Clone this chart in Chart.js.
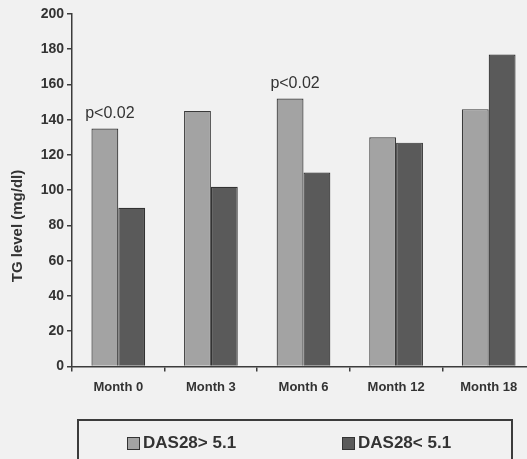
<!DOCTYPE html>
<html>
<head>
<meta charset="utf-8">
<script src="https://cdn.jsdelivr.net/npm/chart.js@4/dist/chart.umd.min.js"></script>
<style>
  html, body { margin: 0; padding: 0; background: #f1f1f1; overflow: hidden; }
  #wrap { position: relative; width: 527px; height: 459px; overflow: hidden; }
  #legend {
    position: absolute; left: 77px; top: 419px; width: 436px; height: 60px;
    border: 2px solid #3c3c3c; box-sizing: border-box;
    font: bold 17px "Liberation Sans", Arial, sans-serif; color: #333;
  }
  #legend .item { position: absolute; top: 12px; display: flex; align-items: center; }
  #legend .sw { width: 11px; height: 11px; border: 1px solid #333; margin-right: 3px; }
</style>
</head>
<body>
<div id="wrap">
  <canvas id="c" width="540" height="459"></canvas>
  <div id="legend"></div>
</div>
<script>
'use strict';

// ── data ────────────────────────────────────────────────────────────────────

const months   = ['Month 0', 'Month 3', 'Month 6', 'Month 12', 'Month 18'];
const highDAS  = [135, 145, 152, 130, 146];   // DAS28> 5.1
const lowDAS   = [90, 102, 110, 127, 177];    // DAS28< 5.1
const seriesNames = ['DAS28> 5.1', 'DAS28< 5.1'];
const yTicks   = { min: 0, max: 200, step: 20 };
const yTitle   = 'TG level (mg/dl)';
const pLabels  = [{ idx: 0, text: 'p<0.02' }, { idx: 2, text: 'p<0.02' }];

const FONT = '"Liberation Sans", Arial, sans-serif';
const AXIS = '#3c3c3c';

// ── plugins ─────────────────────────────────────────────────────────────────

const pValuePlugin = {
  id: 'pvals',
  afterDatasetsDraw(chart) {
    const meta = chart.getDatasetMeta(0);
    const ctx = chart.ctx;
    ctx.save();
    ctx.font = '16px ' + FONT;
    ctx.fillStyle = '#333';
    ctx.textAlign = 'center';
    ctx.textBaseline = 'middle';
    pLabels.forEach(p => {
      const bar = meta.data[p.idx];
      ctx.fillText(p.text, bar.x + 5, bar.y - 15);
    });
    ctx.restore();
  },
};

const yTitlePlugin = {
  id: 'ytitle',
  afterDraw(chart) {
    const ctx = chart.ctx;
    ctx.save();
    ctx.translate(18, 226);
    ctx.rotate(-Math.PI / 2);
    ctx.font = 'bold 15px ' + FONT;
    ctx.fillStyle = '#333';
    ctx.textAlign = 'center';
    ctx.textBaseline = 'middle';
    ctx.fillText(yTitle, 0, 0);
    ctx.restore();
  },
};

// ── chart ───────────────────────────────────────────────────────────────────

const chart = new Chart(document.getElementById('c'), {
  type: 'bar',
  data: {
    labels: months,
    datasets: [
      { label: seriesNames[0], data: highDAS, backgroundColor: '#a3a3a3',
        borderColor: '#3a3a3a', borderWidth: 1.2 },
      { label: seriesNames[1], data: lowDAS, backgroundColor: '#5a5a5a',
        borderColor: '#333', borderWidth: 1.2 },
    ],
  },
  options: {
    responsive: false, animation: false, devicePixelRatio: 1,
    categoryPercentage: 0.58, barPercentage: 1,
    layout: { padding: { top: 14, right: 5, bottom: 56, left: 0 } },
    plugins: { legend: { display: false }, tooltip: { enabled: false } },
    scales: {
      x: {
        grid: { drawOnChartArea: false, offset: true, tickLength: 5, color: AXIS, lineWidth: 1.5 },
        border: { color: AXIS, width: 1.5 },
        ticks: { color: '#333', font: { family: FONT, size: 13, weight: 'bold' }, padding: 8 },
      },
      y: {
        min: yTicks.min, max: yTicks.max,
        afterFit: s => { s.width = 72; },
        grid: { drawOnChartArea: false, tickLength: 5, color: AXIS, lineWidth: 1.5 },
        border: { color: AXIS, width: 1.5 },
        ticks: { stepSize: yTicks.step, color: '#333', padding: 3,
          font: { family: FONT, size: 14, weight: 'bold' } },
      },
    },
  },
  plugins: [pValuePlugin, yTitlePlugin],
});

// ── html legend ─────────────────────────────────────────────────────────────

const legendEl = document.getElementById('legend');
const legendX = [48, 263];
chart.data.datasets.forEach((ds, i) => {
  const item = document.createElement('div');
  item.className = 'item';
  item.style.left = legendX[i] + 'px';
  const sw = document.createElement('span');
  sw.className = 'sw';
  sw.style.background = ds.backgroundColor;
  const txt = document.createElement('span');
  txt.textContent = ds.label;
  item.appendChild(sw);
  item.appendChild(txt);
  legendEl.appendChild(item);
});
</script>
</body>
</html>
